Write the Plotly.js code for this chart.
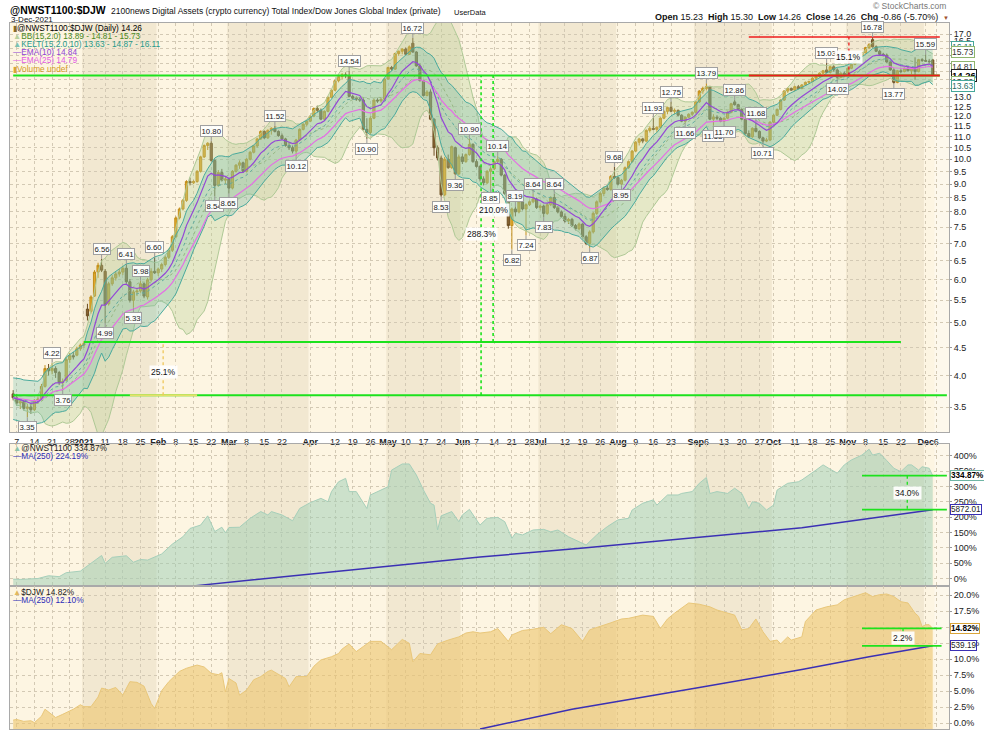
<!DOCTYPE html>
<html><head><meta charset="utf-8">
<script src="https://cdn.plot.ly/plotly-3.0.1.min.js"></script>
<style>html,body{margin:0;padding:0;background:#fff}#chart{width:984px;height:731px}</style>
</head><body><div id="chart"></div>
<script>
// ---------------- DATA ----------------
// trading-day series start (weekdays from 2020-12-04 to 2021-12-03)
const firstDay = '2020-12-04';
const opens = [3.70,3.64,3.56,3.58,3.48,3.50,3.46,3.60,3.62,3.82,
4.12,4.08,4.12,4.05,3.88,3.92,4.28,4.35,4.36,4.48,
4.55,5.30,5.25,5.60,6.20,6.38,6.22,5.42,5.90,6.05,
6.15,6.20,6.30,5.95,5.50,5.70,5.72,5.90,5.58,6.00,
6.22,6.18,6.28,6.40,6.60,6.80,7.20,7.80,8.10,8.40,
9.10,9.05,9.10,9.50,10.10,10.60,10.70,9.95,8.95,9.45,
9.15,9.20,8.85,9.50,9.75,9.85,9.50,10.00,10.30,10.58,
10.90,11.25,10.95,11.30,11.40,11.25,11.05,10.90,10.60,10.50,
10.35,10.85,11.35,11.60,11.75,12.00,12.40,12.30,11.85,12.25,
13.00,13.40,13.95,14.20,14.30,14.25,13.05,12.95,12.90,12.85,
11.35,11.20,11.90,12.85,12.80,12.90,14.05,14.75,14.65,15.65,
15.80,15.95,15.60,16.35,15.75,14.85,13.95,13.10,13.30,11.85,
10.50,10.05,8.60,10.00,9.65,10.50,9.40,10.10,9.90,10.20,
10.65,9.90,9.70,9.20,9.05,9.50,9.60,9.90,10.00,9.35,
8.65,7.55,8.10,8.00,8.35,8.10,8.25,8.35,8.45,8.15,
8.20,7.95,8.25,8.50,8.15,8.00,7.85,7.70,7.75,7.55,
7.45,7.60,7.20,7.00,7.35,7.95,8.35,8.65,8.85,8.80,
9.30,9.25,9.00,9.15,9.65,9.90,10.35,10.75,10.90,10.80,
11.30,11.40,11.35,11.45,11.90,12.25,12.45,12.25,12.30,12.05,
11.75,11.95,12.10,12.20,12.75,13.35,13.50,13.60,11.85,11.95,
11.90,11.75,11.90,12.20,12.75,12.60,12.35,11.85,11.15,11.00,
11.40,11.25,10.95,10.80,10.85,11.70,12.05,12.35,12.85,13.35,
13.50,13.40,13.60,13.50,13.70,13.85,13.90,14.10,14.20,14.40,
14.60,14.45,14.80,14.60,14.15,14.40,14.30,14.70,14.95,15.20,
15.50,15.70,16.05,16.60,16.10,15.80,15.60,15.55,15.10,14.60,
13.85,14.55,14.50,14.70,14.55,14.70,14.50,15.25,15.20,15.15,
15.23];
const highs = [3.76,3.70,3.62,3.60,3.55,3.56,3.62,3.66,3.86,4.18,
4.20,4.22,4.16,4.08,3.95,4.32,4.40,4.42,4.52,4.58,
4.62,5.42,5.62,6.25,6.45,6.56,6.28,5.95,6.12,6.22,
6.28,6.36,6.41,6.02,5.75,5.80,5.98,5.92,6.05,6.30,
6.60,6.32,6.45,6.65,6.85,7.25,7.85,8.15,8.45,9.15,
9.25,9.15,9.55,10.15,10.65,10.75,10.80,10.00,9.55,9.60,
9.30,9.25,9.55,9.80,9.95,9.90,10.05,10.35,10.62,10.95,
11.30,11.30,11.35,11.45,11.52,11.30,11.15,10.95,10.75,10.60,
10.90,11.40,11.65,11.80,12.05,12.45,12.55,12.40,12.30,13.05,
13.45,14.00,14.25,14.40,14.45,14.54,13.15,13.05,13.00,12.95,
11.90,12.00,12.90,12.95,12.95,14.10,14.80,14.85,15.70,15.85,
16.00,16.05,16.20,16.72,15.80,15.00,14.00,13.40,13.45,11.90,
10.60,10.15,10.10,10.20,10.60,10.55,10.20,10.25,10.25,10.90,
10.70,10.00,9.75,9.30,9.55,9.70,9.95,10.14,10.05,9.40,
8.70,8.15,8.19,8.40,8.45,8.30,8.40,8.64,8.50,8.25,
8.25,8.30,8.55,8.64,8.20,8.05,7.95,7.80,7.80,7.60,
7.65,7.62,7.25,7.40,8.00,8.40,8.70,8.90,8.95,9.35,
9.68,9.30,9.20,9.70,9.95,10.40,10.80,10.95,10.95,11.35,
11.50,11.93,11.50,11.95,12.30,12.50,12.75,12.40,12.35,12.10,
12.00,12.15,12.25,12.80,13.40,13.60,13.79,13.65,12.10,12.05,
11.95,11.95,12.25,12.70,12.86,12.65,12.40,11.90,11.30,11.45,
11.68,11.30,11.00,10.95,11.75,12.10,12.40,12.90,13.40,13.55,
13.55,13.65,13.70,13.75,13.90,13.95,14.15,14.25,14.45,14.60,
15.03,14.85,14.90,14.70,14.45,14.50,14.75,15.00,15.25,15.55,
15.75,16.10,16.35,16.78,16.20,15.90,15.70,15.65,15.15,14.70,
14.60,14.70,14.75,14.80,14.75,15.40,15.30,15.35,15.59,15.30,
15.30];
const lows = [3.60,3.52,3.47,3.45,3.35,3.40,3.44,3.55,3.60,3.80,
4.00,4.02,3.96,3.84,3.76,3.90,4.22,4.28,4.34,4.44,
4.50,5.05,5.20,5.58,6.05,6.20,4.99,5.38,5.85,5.98,
6.08,6.12,5.90,5.45,5.33,5.60,5.68,5.55,5.52,5.95,
6.15,6.10,6.20,6.35,6.55,6.75,7.15,7.75,8.05,8.35,
8.95,9.00,9.05,9.45,10.05,10.40,9.90,8.54,8.90,9.10,
9.00,8.65,8.80,9.45,9.60,9.45,9.45,9.95,10.25,10.50,
10.85,10.90,10.90,11.10,11.20,11.00,10.85,10.55,10.40,10.25,
10.12,10.80,11.30,11.50,11.70,11.95,12.20,11.80,11.80,12.20,
12.95,13.35,13.85,14.05,14.10,13.00,12.85,12.80,12.75,11.30,
10.90,11.10,11.85,12.70,12.70,12.85,14.00,14.55,14.60,15.50,
15.60,15.55,15.55,15.70,14.80,13.90,13.05,13.05,11.80,10.15,
9.95,8.53,8.55,9.60,9.60,9.36,9.35,9.80,9.85,10.15,
9.85,9.65,9.10,8.95,9.00,8.85,9.55,9.80,9.30,8.60,
7.45,6.82,7.85,7.95,8.05,7.24,8.20,8.30,8.10,8.05,
7.83,7.90,8.20,8.10,7.95,7.80,7.65,7.60,7.50,7.40,
7.40,7.15,6.95,6.87,7.30,7.90,8.30,8.55,8.75,8.75,
9.20,8.95,8.95,9.10,9.60,9.85,10.30,10.60,10.70,10.75,
11.20,11.30,11.20,11.40,11.85,12.10,12.20,12.10,12.00,11.70,
11.66,11.90,12.00,12.15,12.70,13.20,13.40,11.80,11.53,11.80,
11.70,11.70,11.85,12.15,12.55,12.30,11.80,11.10,10.95,10.95,
11.20,10.90,10.71,10.75,10.80,11.65,12.00,12.30,12.80,13.25,
13.35,13.35,13.45,13.45,13.65,13.75,13.85,14.00,14.15,14.35,
14.40,14.40,14.50,14.02,14.10,14.20,14.25,14.65,14.90,15.15,
15.45,15.65,15.95,16.05,15.75,15.50,15.45,15.05,14.55,13.77,
13.80,14.40,14.45,14.50,14.35,14.00,14.45,15.10,15.10,15.00,
14.26];
const closes = [3.64,3.56,3.58,3.48,3.50,3.46,3.60,3.62,3.82,4.12,
4.08,4.12,4.05,3.88,3.90,4.28,4.35,4.33,4.48,4.55,
4.58,5.15,5.58,6.20,6.38,6.25,5.40,5.90,6.05,6.15,
6.20,6.30,5.95,5.50,5.70,5.72,5.90,5.60,6.00,6.22,
6.18,6.28,6.40,6.60,6.80,7.20,7.80,8.10,8.40,9.10,
9.05,9.10,9.50,10.10,10.60,10.70,9.95,8.95,9.45,9.15,
9.20,8.85,9.50,9.75,9.85,9.50,10.00,10.30,10.58,10.90,
11.25,10.95,11.30,11.40,11.25,11.05,10.90,10.60,10.50,10.35,
10.85,11.35,11.60,11.75,12.00,12.40,12.30,11.85,12.25,13.00,
13.40,13.95,14.20,14.30,14.25,13.05,12.95,12.90,12.85,11.35,
11.20,11.90,12.85,12.80,12.90,14.05,14.75,14.65,15.65,15.80,
15.95,15.60,16.10,15.75,14.85,13.95,13.10,13.30,11.85,10.50,
10.05,8.60,10.00,9.65,10.55,9.40,10.10,9.90,10.20,10.65,
9.90,9.70,9.20,9.05,9.50,9.60,9.90,10.00,9.35,8.65,
7.55,8.10,8.00,8.35,8.10,8.25,8.35,8.45,8.15,8.20,
7.95,8.25,8.50,8.15,8.00,7.85,7.70,7.75,7.55,7.45,
7.60,7.20,7.00,7.35,7.95,8.35,8.65,8.85,8.80,9.30,
9.25,9.00,9.15,9.65,9.90,10.35,10.75,10.90,10.80,11.30,
11.40,11.35,11.45,11.90,12.25,12.45,12.25,12.30,12.05,11.75,
11.95,12.10,12.20,12.75,13.35,13.50,13.60,11.85,11.95,11.90,
11.75,11.90,12.20,12.65,12.60,12.35,11.85,11.15,11.00,11.40,
11.25,10.95,10.80,10.85,11.70,12.05,12.35,12.85,13.35,13.50,
13.40,13.60,13.50,13.70,13.85,13.90,14.10,14.20,14.40,14.55,
14.45,14.80,14.60,14.15,14.40,14.30,14.70,14.95,15.20,15.50,
15.70,16.05,16.25,16.10,15.80,15.60,15.55,15.10,14.60,13.85,
14.55,14.50,14.70,14.55,14.70,14.50,15.25,15.20,15.15,15.12,
14.26];

// x-axis tick dates and labels
const tickDates = ['2020-12-07','2020-12-14','2020-12-21','2020-12-28','2021-01-01','2021-01-11','2021-01-18','2021-01-25','2021-02-01','2021-02-08','2021-02-15','2021-02-22','2021-03-01','2021-03-08','2021-03-15','2021-03-22','2021-04-01','2021-04-12','2021-04-19','2021-04-26','2021-05-03','2021-05-10','2021-05-17','2021-05-24','2021-06-01','2021-06-07','2021-06-14','2021-06-21','2021-06-28','2021-07-01','2021-07-12','2021-07-19','2021-07-26','2021-08-02','2021-08-09','2021-08-16','2021-08-23','2021-09-01','2021-09-06','2021-09-13','2021-09-20','2021-09-27','2021-10-01','2021-10-11','2021-10-18','2021-10-25','2021-11-01','2021-11-08','2021-11-15','2021-11-22','2021-12-01','2021-12-06'];
const tickLabels = ['7','14','21','28','2021','11','18','25','Feb','8','15','22','Mar','8','15','22','Apr','12','19','26','May','10','17','24','Jun','7','14','21','28','Jul','12','19','26','Aug','9','16','23','Sep','6','13','20','27','Oct','11','18','25','Nov','8','15','22','Dec','6'];

// price axis ticks
const priceTicks = [3.5,4.0,4.5,5.0,5.5,6.0,6.5,7.0,7.5,8.0,8.5,9.0,9.5,10.0,10.5,11.0,11.5,12.0,12.5,13.0,13.5,14.0,14.5,15.0,15.5,16.0,16.5,17.0];
const hiddenPriceTicks = [13.5,14.0,14.5,15.0,15.5,16.0];

// high/low callouts (trading day number, value, side a=above b=below)
const calloutDay = [4,11,14,25,26,32,34,36,40,56,57,61,74,80,95,100,113,121,125,129,135,137,141,142,145,147,150,153,163,170,172,181,186,190,196,198,201,204,210,212,230,233,243,249,258];
const calloutValue = [3.35,4.22,3.76,6.56,4.99,6.41,5.33,5.98,6.60,10.80,8.54,8.65,11.52,10.12,14.54,10.90,16.72,8.53,9.36,10.90,8.85,10.14,6.82,8.19,7.24,8.64,7.83,8.64,6.87,9.68,8.95,11.93,12.75,11.66,13.79,11.53,11.70,12.86,11.68,10.71,15.03,14.02,16.78,13.77,15.59];
const calloutSide = ['b','a','b','a','b','a','b','a','a','a','b','b','a','b','a','b','a','b','b','a','b','a','b','a','b','a','b','a','b','a','b','a','a','b','a','b','b','a','a','b','a','b','a','b','a'];

// latest-value boxes on main price axis
const lastText = ['16.11','15.73','14.81','14.26','13.89','13.63'];
const lastValue = [16.11,15.73,14.81,14.26,13.89,13.63];

// @NWST1100 percent performance panel
const nwstDay = [0,2,7,10,13,15,19,21,25,26,28,32,34,36,38,42,45,48,50,53,55,57,59,60,61,64,67,70,72,73,76,79,81,84,87,89,90,92,94,95,97,100,101,104,106,107,110,112,114,116,118,119,120,121,124,126,127,129,132,134,137,139,141,142,144,147,150,152,154,157,159,162,165,168,171,174,175,178,181,182,185,188,189,192,194,196,197,199,202,204,206,208,209,211,213,215,216,219,222,223,227,229,231,233,235,237,240,242,243,245,247,249,251,253,254,256,257,259,260];
const nwstPct = [-2,-3,0,9,6,19,24,41,75,49,69,74,53,62,60,80,112,136,163,174,204,153,167,149,166,167,196,218,207,218,207,188,228,247,261,250,283,315,326,283,283,228,272,288,299,353,373,373,337,288,245,239,158,204,218,185,207,225,174,196,199,185,131,147,142,158,160,152,158,136,125,109,142,169,191,196,223,245,256,239,272,272,277,283,310,329,277,283,277,294,277,228,250,245,223,239,288,310,315,321,353,370,356,343,370,386,402,421,402,408,384,359,348,370,370,353,364,359,334.87];
const nwstMaDay = [51,81,109,132,162,194,223,240,260];
const nwstMa = [-24,10,42,70,100,133,165,192,224.19];

// $DJW percent performance panel
const djwDay = [0,1,3,5,6,8,9,10,12,14,17,19,20,22,24,25,27,29,31,33,35,37,39,40,42,44,47,49,52,54,56,58,59,60,61,63,64,66,68,70,72,73,75,77,78,80,83,85,87,90,92,93,95,97,99,101,104,106,107,110,112,113,115,118,120,123,126,128,130,132,135,137,140,141,144,147,150,152,155,158,161,163,166,169,172,174,178,181,183,185,187,189,191,194,197,199,202,204,206,208,210,212,214,216,217,219,220,223,224,227,230,233,235,238,240,241,243,245,247,249,251,253,255,256,257,258,259,260];
const djwPct = [0.5,0.6,0.3,0.4,0.1,1.1,2.2,1.8,0.9,1.4,2.2,2.9,2.6,2.6,4.1,5.5,5.2,5.6,4.4,6.5,6.4,5.8,3.1,2.3,5.1,6.5,8.1,8.6,9.1,8.8,7.8,7.6,7.9,4.9,7.0,6.3,4.4,5.2,6.8,7.3,8.1,8.3,7.6,7.0,5.7,7.3,7.3,8.9,9.9,10.4,10.9,11.6,12.4,11.2,12.0,12.8,12.8,12.0,11.5,13.1,12.5,9.6,10.9,10.7,12.4,13.0,13.5,14.1,14.3,14.1,14.3,14.8,12.8,13.8,14.5,14.7,15.0,14.0,15.4,14.8,12.8,14.6,15.1,15.7,16.3,16.4,16.9,16.7,14.8,16.3,17.2,18.0,18.8,18.6,18.2,17.7,17.2,16.9,14.6,14.8,16.3,14.3,12.8,13.0,12.4,13.5,13.0,13.5,15.9,17.7,18.2,18.5,19.3,19.9,20.2,20.4,19.8,20.1,20.2,19.8,19.0,18.8,17.2,16.7,15.1,15.4,15.4,14.82];
const djwMaDay = [132,158,194,223,242,260];
const djwMa = [-0.9,2.2,5.6,8.4,10.4,12.10];

// drawn trend/measure lines (level, from day, to day)
const greenLevel = [14.26,4.61,3.68];
const greenFrom = [0,20,0];
const greenTo = [262,251,264];
const redLevel = [16.78,14.26];
const redFrom = [208,208];
const redTo = [262,262];
// vertical measures: day, from level, to level, label, label level
const measureDay = [132.3,135.7,42.4,236.3];
const measureLo = [3.68,4.61,3.68,14.26];
const measureHi = [14.26,14.26,4.61,16.78];
const measureText = ['288.3%','210.0%','25.1%','15.1%'];
const measureTextLevel = [7.30,8.06,4.06,15.4];
// lower-panel measures
const p2Levels = [334.87,224.19], p2Text='34.0%', p2TextLevel=278, p2Day=252.8, p2From=240, p2To=264;
const p3Levels = [14.82,12.10], p3Text='2.2%', p3TextLevel=13.3, p3Day=251.6, p3From=240, p3To=262.5;

// ---------------- BUILD ----------------
const F = 'Liberation Sans, Arial, sans-serif';
const dates = [];
{ let t = Date.parse(firstDay + 'T00:00:00Z'); while (dates.length < 268) { const d = new Date(t); const w = d.getUTCDay(); if (w > 0 && w < 6) dates.push(d.toISOString().slice(0,10)); t += 86400000; } }
const dayOf = s => dates.indexOf(s);
const xs = closes.map((_, i) => i);

function emaCalc(a, n) { const k = 2/(n+1); let e = a[0]; return a.map((v,i) => i === 0 ? (e = v) : (e = v*k + e*(1-k))); }
const ema10 = emaCalc(closes, 10), ema25 = emaCalc(closes, 25), ema15 = emaCalc(closes, 15);
const bbMid = [], bbUp = [], bbLo = [];
closes.forEach((_, i) => { const w = closes.slice(Math.max(0, i-14), i+1); const m = w.reduce((a,b)=>a+b,0)/w.length; const sd = Math.sqrt(w.reduce((a,b)=>a+(b-m)*(b-m),0)/w.length); bbMid.push(m); bbUp.push(m+2*sd); bbLo.push(m-2*sd); });
const tr = closes.map((c,i) => i === 0 ? highs[0]-lows[0] : Math.max(highs[i]-lows[i], Math.abs(highs[i]-closes[i-1]), Math.abs(lows[i]-closes[i-1])));
let atrV = tr[0]; const atr = tr.map((t,i) => i === 0 ? atrV : (atrV = (atrV*9 + t)/10));
const kUp = ema15.map((m,i) => m + 2*atr[i]), kLo = ema15.map((m,i) => m - 2*atr[i]);

const W = 984, H = 731, ML = 10, MR = 35, MT = 23, MB = 2;
const PW = W - ML - MR, PH = H - MT - MB;
const px = x => (x - ML) / PW, py = y => (H - MB - y) / PH;

const GREEN = '#1de21d', RED = '#ee1c1c';
const traces = [];
const line = (x, y, color, width, dash, ax, ay) => ({type:'scatter', mode:'lines', x, y, xaxis:ax||'x', yaxis:ay||'y', line:{color, width, dash:dash||'solid'}, hoverinfo:'skip', showlegend:false});

// panel 2 & 3 areas (filled to panel bottom)
traces.push(line(nwstDay, nwstDay.map(()=>-60), 'rgba(0,0,0,0)', 0, null, 'x2', 'y2'));
traces.push(Object.assign(line(nwstDay, nwstPct, '#a6cfba', 1, null, 'x2', 'y2'), {fill:'tonexty', fillcolor:'rgba(155,205,180,0.5)'}));
traces.push(line(nwstMaDay, nwstMa, '#3b30b4', 1.5, null, 'x2', 'y2'));
traces.push(line(djwDay, djwDay.map(()=>-5), 'rgba(0,0,0,0)', 0, null, 'x3', 'y3'));
traces.push(Object.assign(line(djwDay, djwPct, '#e9c77a', 1, null, 'x3', 'y3'), {fill:'tonexty', fillcolor:'rgba(236,196,108,0.6)'}));
traces.push(line(djwMaDay, djwMa, '#3b30b4', 1.5, null, 'x3', 'y3'));

// bands
traces.push(line(xs, bbUp, '#afc996', 1));
traces.push(Object.assign(line(xs, bbLo, '#afc996', 1), {fill:'tonexty', fillcolor:'rgba(182,207,146,0.33)'}));
traces.push(line(xs, kUp, '#4aaa9d', 1));
traces.push(Object.assign(line(xs, kLo, '#4aaa9d', 1), {fill:'tonexty', fillcolor:'rgba(95,185,168,0.27)'}));
traces.push(line(xs, bbMid, '#97b783', 1, 'dot'));
traces.push(line(xs, ema15, '#62ab9f', 1, 'dot'));
traces.push(line(xs, ema25, '#e56ee5', 1.2));
traces.push(line(xs, ema10, '#9447d6', 1.2));

// candles
traces.push({type:'candlestick', x:xs, open:opens, high:highs, low:lows, close:closes, xaxis:'x', yaxis:'y',
  increasing:{line:{color:'#c28e1a', width:1}, fillcolor:'#e0a82c'},
  decreasing:{line:{color:'#6d4f24', width:1}, fillcolor:'#876330'},
  whiskerwidth:0, hoverinfo:'skip', showlegend:false});

// drawn lines
greenLevel.forEach((v,k) => traces.push(line([greenFrom[k], greenTo[k]], [v, v], GREEN, 2)));
traces.push(line([33, 52], [3.68, 3.68], '#e6e06a', 2));
redLevel.forEach((v,k) => traces.push(line([redFrom[k], redTo[k]], [v, v], RED, k === 0 ? 1.5 : 2)));
measureDay.forEach((d,k) => {
  const col = k < 2 ? GREEN : (k === 2 ? '#efc75a' : RED);
  traces.push(line([d, d], [measureLo[k], measureHi[k]], col, k < 2 ? 1.6 : 1.3, 'dot'));
});
p2Levels.forEach(v => traces.push(line([p2From, p2To], [v, v], GREEN, 1.8, null, 'x2', 'y2')));
traces.push(line([p2Day, p2Day], p2Levels, GREEN, 1.3, 'dot', 'x2', 'y2'));
p3Levels.forEach(v => traces.push(line([p3From, p3To], [v, v], GREEN, 1.8, null, 'x3', 'y3')));
traces.push(line([p3Day, p3Day], p3Levels, GREEN, 1.3, 'dot', 'x3', 'y3'));

// ---------------- ANNOTATIONS ----------------
const ann = [];
const txt = (x, y, text, size, color, extra) => Object.assign({xref:'paper', yref:'paper', x:px(x), y:py(y), text, showarrow:false, xanchor:'left', yanchor:'middle', font:{family:F, size, color:color||'#000'}}, extra||{});
ann.push(txt(8, 11, '<b>@NWST1100:$DJW</b>', 10.4));
ann.push(txt(109, 11.5, '2100news Digital Assets (crypto currency) Total Index/Dow Jones Global Index (private)', 8.5, '#111'));
ann.push(txt(452, 12, 'UserData', 7.5, '#111'));
ann.push(txt(9, 19.5, '3-Dec-2021', 8, '#111'));
ann.push(txt(948, 6, '© StockCharts.com', 8.5, '#777', {xanchor:'right'}));
ann.push(txt(940, 17, '<b>Open</b> 15.23  <b>High</b> 15.30  <b>Low</b> 14.26  <b>Close</b> 14.26  <b>Chg</b> -0.86 (-5.70%)', 9, '#111', {xanchor:'right'}));
ann.push(txt(941, 17.5, '▼', 6, '#a0522d'));

// main legend
const legLines = [
  ['<span style="color:#8a6a2a">▮</span>@NWST1100:$DJW (Daily) 14.26', '#000'],
  ['<span style="color:#b9d19c">▲</span>BB(15,2.0) 13.89 - 14.81 - 15.73', '#4a8a24'],
  ['<span style="color:#7cc2b2">▲</span>KELT(15,2.0,10) 13.63 - 14.87 - 16.11', '#27998a'],
  ['—EMA(10) 14.84', '#8e44d6'],
  ['—EMA(25) 14.79', '#e35be3'],
  ['<span style="color:#d8a33a">▮</span>Volume undef', '#d39a22']
];
legLines.forEach((l, k) => ann.push(txt(11, 27.5 + k*8.2, l[0], 8.3, l[1])));
ann.push(txt(11, 447.5, '<span style="color:#8cc3a8">▲</span>@NWST1100 334.87%', 8.3, '#222'));
ann.push(txt(11, 456, '—MA(250) 224.19%', 8.3, '#2b2bb8'));
ann.push(txt(11, 591.5, '<span style="color:#e2b85e">▲</span>$DJW 14.82%', 8.3, '#222'));
ann.push(txt(11, 600, '—MA(250) 12.10%', 8.3, '#2b2bb8'));

// callouts
calloutDay.forEach((d, k) => {
  const v = calloutValue[k], up = calloutSide[k] === 'a';
  ann.push({xref:'x', yref:'y', x:d, y:Math.log10(up ? highs[d] : lows[d]), text:v.toFixed(2), showarrow:true, arrowhead:0, arrowwidth:1, arrowcolor:'#9a9a9a', ax:0, ay:up ? -10 : 10,
    bgcolor:'rgba(255,255,255,0.92)', bordercolor:'#a0a0a0', borderwidth:1, borderpad:0.5, font:{family:F, size:7.8, color:'#222'}});
});

// measure labels
measureText.forEach((t, k) => ann.push({xref:'x', yref:'y', x:measureDay[k], y:Math.log10(measureTextLevel[k]), text:t, showarrow:false, bgcolor:'rgba(255,255,255,0.9)', borderpad:1, font:{family:F, size:8.5, color:'#111'}}));
ann.push({xref:'x2', yref:'y2', x:p2Day, y:p2TextLevel, text:p2Text, showarrow:false, bgcolor:'rgba(255,255,255,0.92)', borderpad:1, font:{family:F, size:8.5, color:'#111'}});
ann.push({xref:'x3', yref:'y3', x:p3Day, y:p3TextLevel, text:p3Text, showarrow:false, bgcolor:'rgba(255,255,255,0.92)', borderpad:1, font:{family:F, size:8.5, color:'#111'}});

// right-side value boxes
const boxStyle = [['#46a89b','#1f6f66',false],['#8fb56e','#333',false],['#8fb56e','#333',false],['#222','#000',true],['#8fb56e','#333',false],['#46a89b','#1f6f66',false]];
lastText.forEach((t, k) => ann.push({xref:'paper', yref:'y', x:1, xanchor:'left', xshift:2, y:Math.log10(lastValue[k]), text:boxStyle[k][2] ? '<b>'+t+'</b>' : t, showarrow:false,
  bgcolor:'#fff', bordercolor:boxStyle[k][0], borderwidth:1, borderpad:0, font:{family:F, size:boxStyle[k][2] ? 9.5 : 8.5, color:boxStyle[k][1]}}));
ann.push({xref:'paper', yref:'y2', x:1, xanchor:'left', xshift:1, y:334.87, text:'<b>334.87%</b>', showarrow:false, bgcolor:'#fff', bordercolor:'#6fb5a5', borderwidth:1, borderpad:0, font:{family:F, size:8.2, color:'#000'}});
ann.push({xref:'paper', yref:'y2', x:1, xanchor:'left', xshift:1, y:224.19, text:'5872.01', showarrow:false, bgcolor:'#fff', bordercolor:'#3b30b4', borderwidth:1, borderpad:0, font:{family:F, size:8.2, color:'#222'}});
ann.push({xref:'paper', yref:'y3', x:1, xanchor:'left', xshift:1, y:14.82, text:'<b>14.82%</b>', showarrow:false, bgcolor:'#fff', bordercolor:'#d9a53a', borderwidth:1, borderpad:0, font:{family:F, size:8.2, color:'#000'}});
ann.push({xref:'paper', yref:'y3', x:1, xanchor:'left', xshift:1, y:12.10, text:'539.19', showarrow:false, bgcolor:'#fff', bordercolor:'#3b30b4', borderwidth:1, borderpad:0, font:{family:F, size:8.2, color:'#222'}});

// ---------------- SHAPES (month shading) ----------------
const shapes = [];
let ms = 0;
for (let i = 1; i <= dates.length; i++) {
  if (i === dates.length || dates[i].slice(5,7) !== dates[ms].slice(5,7)) {
    const m = +dates[ms].slice(5,7) - 1;
    if (m % 2 === 0) ['y','y2','y3'].forEach(ya => shapes.push({type:'rect', xref:'x', yref:ya+' domain', x0:ms-0.5, x1:i-0.5, y0:0, y1:1, fillcolor:'#f2e8d1', line:{width:0}, layer:'below'}));
    ms = i;
  }
}
// region after last bar
['y','y2','y3'].forEach(ya => shapes.push({type:'rect', xref:'x', yref:ya+' domain', x0:closes.length-0.5, x1:270, y0:0, y1:1, fillcolor:'#fdf8ec', line:{width:0}, layer:'below'}));

// ---------------- LAYOUT ----------------
const tickIdx = tickDates.map(dayOf);
const tickTxt = tickLabels.map(t => /^\d+$/.test(t) && t.length < 3 ? t : '<b>' + t + '</b>');
const grid = {showgrid:true, gridcolor:'#d3c9b4', griddash:'dot', gridwidth:1, zeroline:false, showline:true, mirror:true, linecolor:'#a9a9a9', linewidth:1, fixedrange:true};
const xcommon = Object.assign({}, grid, {range:[-0.9, 264.6], tickvals:tickIdx, ticktext:tickTxt, ticks:'', tickangle:0, rangeslider:{visible:false}});
const tickFont = {family:F, size:9, color:'#222'};
const layout = {
  width:W, height:H, margin:{l:ML, r:MR, t:MT, b:MB}, paper_bgcolor:'#ffffff', plot_bgcolor:'#fdf5e2', showlegend:false, boxgap:0.12,
  xaxis: Object.assign({}, xcommon, {anchor:'y', domain:[0,1], tickfont:tickFont, showticklabels:true, ticklabelstandoff:1}),
  xaxis2: Object.assign({}, xcommon, {anchor:'y2', domain:[0,1], matches:'x', showticklabels:false}),
  xaxis3: Object.assign({}, xcommon, {anchor:'y3', domain:[0,1], matches:'x', showticklabels:false}),
  yaxis: Object.assign({}, grid, {domain:[py(432), 1], type:'log', range:[0.4981, 1.2507], side:'right', tickvals:priceTicks,
     ticktext:priceTicks.map(v => hiddenPriceTicks.includes(v) ? '' : v.toFixed(1)), tickfont:tickFont, ticks:'outside', ticklen:2, tickcolor:'#999'}),
  yaxis2: Object.assign({}, grid, {domain:[py(586), py(444)], range:[-24.4, 438], side:'right', tickvals:[0,50,100,150,200,250,300,350,400],
     ticktext:['0%','50%','100%','150%','200%','250%','300%','350%','400%'], tickfont:tickFont, ticks:'outside', ticklen:2, tickcolor:'#999'}),
  yaxis3: Object.assign({}, grid, {domain:[0, py(586)], range:[-0.89, 21.45], side:'right', tickvals:[0,2.5,5,7.5,10,12.5,15,17.5,20],
     ticktext:['0.0%','2.5%','5.0%','7.5%','10.0%','12.5%','15.0%','17.5%','20.0%'], tickfont:tickFont, ticks:'outside', ticklen:2, tickcolor:'#999'}),
  annotations: ann, shapes
};
Plotly.newPlot('chart', traces, layout, {staticPlot:true, displayModeBar:false});
</script></body></html>
